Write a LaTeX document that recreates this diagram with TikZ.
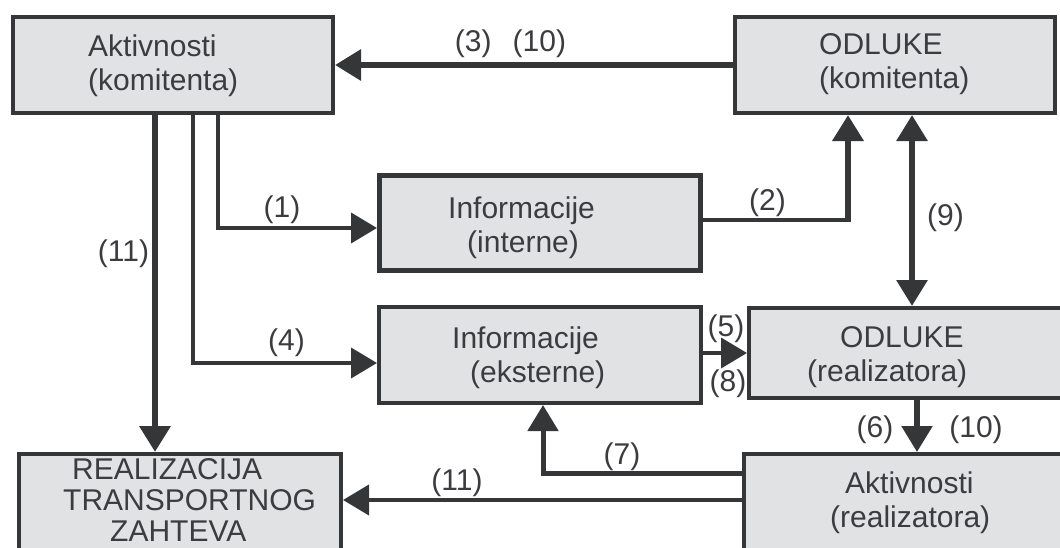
\documentclass[tikz,border=0pt]{standalone}
\usepackage{fontspec}
\setmainfont{Liberation Sans}
\usepackage{tikz}
\usetikzlibrary{arrows.meta}

\definecolor{linija}{HTML}{343638}
\definecolor{blokfill}{HTML}{E1E2E4}
\definecolor{tekstc}{HTML}{3C3C40}

\tikzset{
  >={Triangle[length=26pt,width=30pt]},
  blok/.style={draw=linija, fill=blokfill, line width=4pt, rectangle, inner sep=0pt},
  tekst/.style={text=tekstc, font=\fontsize{30}{34}\selectfont, inner sep=0pt, anchor=west, align=left},
  oznaka/.style={text=tekstc, font=\fontsize{30}{34}\selectfont, inner sep=0pt},
  veza/.style={draw=linija, line width=#1, ->},
  veza/.default=4pt
}

\begin{document}
\begin{tikzpicture}[x=1pt, y=-1pt]
        \useasboundingbox (0,0) rectangle (1060,547);
        \clip (0,0) rectangle (1060,547);
        % blokovi
        \node[blok, minimum width=320, minimum height=96] (akk) at (173,65) {};
        \node[blok, minimum width=320, minimum height=96] (odk) at (895,65) {};
        \node[blok, line width=5pt, minimum width=321, minimum height=95] (intern) at (540,223) {};
        \node[blok, minimum width=322, minimum height=96] (ekstern) at (540,355) {};
        \node[blok, minimum width=331, minimum height=90] (odr) at (914.5,353) {};
        \node[blok, minimum width=336, minimum height=146] (aktr) at (912,527) {};
        \node[blok, minimum width=322, minimum height=146] (real) at (180,527) {};
        \node[tekst] (akk-t) at (88,65.3) {Aktivnosti\\(komitenta)};
        \node[tekst] (odk-t) at (819,64.3) {ODLUKE\\(komitenta)};
        \node[tekst] (intern-t) at (448,227.3) {Informacije\\\hspace*{19pt}(interne)};
        \node[tekst] (ekstern-t) at (452,357.3) {Informacije\\\hspace*{18pt}(eksterne)};
        \node[tekst] (odr-t) at (807,357.3) {\hspace*{33pt}ODLUKE\\(realizatora)};
        \node[tekst] (aktr-t) at (830,502.3) {\hspace*{15pt}Aktivnosti\\(realizatora)};
        \node[tekst, font=\fontsize{30}{31}\selectfont] (real-t) at (63,500) {\hspace*{9pt}REALIZACIJA\\TRANSPORTNOG\\\hspace*{47pt}ZAHTEVA};
        % veze
        \draw[veza=6pt] (odk.west) -- (akk.east);
        \draw[veza=6.5pt] ([xshift=-18pt]akk.south) -- ([xshift=-25pt]real.north);
        \draw[veza] ([xshift=20pt]akk.south) |- ([yshift=-8pt]ekstern.west);
        \draw[veza] ([xshift=45pt]akk.south) |- ([yshift=-5pt]intern.west);
        \coordinate (k2) at (848,220);
        \draw[draw=linija, line width=4pt] ([yshift=3pt]intern.east) -- ([xshift=3pt]k2);
        \draw[veza=6.5pt] ([yshift=-2pt]k2) -- ([xshift=-47pt]odk.south);
        \draw[veza=6pt, <->] ([xshift=17pt]odk.south) -- ([xshift=-2.5pt]odr.north);
        \draw[veza] ([yshift=2pt]ekstern.east) -- (odr.west);
        \draw[veza=5.5pt] ([xshift=2.5pt]odr.south) -- ([xshift=5pt]aktr.north);
        \draw[veza=5pt] ([yshift=54pt]aktr.west) -| ([xshift=3pt]ekstern.south);
        \draw[veza] ([yshift=27pt]aktr.west) -- ([yshift=27pt]real.east);
        % oznake
        \node[oznaka] (l3) at (510.5,43.5) {(3)\hspace{21pt}(10)};
        \node[oznaka] (l1) at (282,209.5) {(1)};
        \node[oznaka] (l11a) at (123.5,253.5) {(11)};
        \node[oznaka] (l2) at (767.5,202.5) {(2)};
        \node[oznaka] (l9) at (945.5,217.5) {(9)};
        \node[oznaka] (l4) at (286.5,342.5) {(4)};
        \node[oznaka] (l11b) at (457,482.5) {(11)};
        \node[oznaka] (l5) at (726,328.5) {(5)};
        \node[oznaka] (l8) at (728,383.5) {(8)};
        \node[oznaka] (l7) at (622,456.5) {(7)};
        \node[oznaka] (l6) at (875,430) {(6)};
        \node[oznaka] (l10) at (976,430) {(10)};
\end{tikzpicture}
\end{document}
